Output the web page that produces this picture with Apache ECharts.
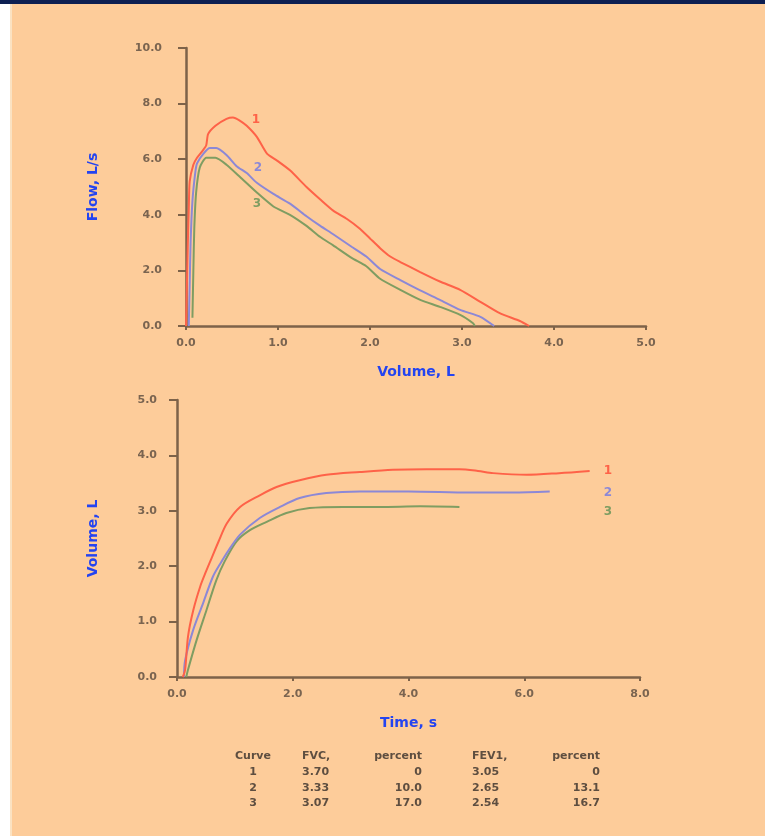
<!DOCTYPE html>
<html>
<head>
<meta charset="utf-8">
<script src="https://cdn.jsdelivr.net/npm/echarts@6/dist/echarts.min.js"></script>
<style>
  html, body { margin: 0; padding: 0; background: #fff; }
  #main { width: 765px; height: 836px; }
</style>
</head>
<body>
<div id="main"></div>
<script>
// flow-volume loops: volume (L) and flow (L/s)
const fvVolume1 = [0, 0.01, 0.02, 0.03, 0.04, 0.08, 0.12, 0.18, 0.22, 0.24, 0.32, 0.44, 0.51, 0.58, 0.66, 0.77, 0.88, 0.99, 1.13, 1.31, 1.46, 1.6, 1.75, 1.89, 2.0, 2.11, 2.22, 2.33, 2.54, 2.76, 2.98, 3.2, 3.41, 3.63, 3.73];
const fvFlow1   = [0, 1.5, 3.0, 4.2, 5.2, 5.8, 6.05, 6.3, 6.5, 6.9, 7.2, 7.45, 7.5, 7.4, 7.2, 6.8, 6.2, 5.95, 5.6, 5.0, 4.55, 4.15, 3.85, 3.5, 3.15, 2.8, 2.5, 2.3, 1.95, 1.6, 1.3, 0.87, 0.46, 0.18, 0];
const fvVolume2 = [0.03, 0.04, 0.05, 0.07, 0.1, 0.12, 0.19, 0.26, 0.33, 0.44, 0.55, 0.66, 0.77, 0.95, 1.13, 1.31, 1.46, 1.6, 1.8, 1.96, 2.11, 2.33, 2.54, 2.76, 2.98, 3.2, 3.35];
const fvFlow2   = [0, 1.5, 3.0, 4.5, 5.5, 5.85, 6.2, 6.4, 6.4, 6.15, 5.75, 5.5, 5.15, 4.75, 4.4, 3.95, 3.6, 3.3, 2.85, 2.5, 2.05, 1.65, 1.29, 0.94, 0.58, 0.33, 0];
const fvVolume3 = [0.07, 0.08, 0.09, 0.11, 0.15, 0.22, 0.32, 0.44, 0.59, 0.77, 0.95, 1.13, 1.31, 1.46, 1.6, 1.8, 1.96, 2.11, 2.33, 2.54, 2.76, 2.98, 3.12, 3.14];
const fvFlow3   = [0.3, 2.0, 3.5, 4.8, 5.7, 6.05, 6.05, 5.8, 5.35, 4.8, 4.3, 4.0, 3.6, 3.2, 2.9, 2.45, 2.15, 1.7, 1.3, 0.95, 0.69, 0.4, 0.1, 0];

// volume-time curves: time (s) and volume (L)
const vtTime1   = [0.1, 0.14, 0.19, 0.28, 0.4, 0.5, 0.6, 0.72, 0.86, 1.09, 1.43, 1.72, 2.12, 2.58, 3.16, 3.73, 4.31, 4.88, 5.2, 5.46, 6.04, 6.6, 7.13];
const vtVolume1 = [0, 0.13, 0.73, 1.2, 1.63, 1.9, 2.15, 2.45, 2.77, 3.07, 3.28, 3.43, 3.55, 3.65, 3.7, 3.74, 3.75, 3.75, 3.72, 3.68, 3.65, 3.68, 3.72];
const vtTime2   = [0.12, 0.14, 0.28, 0.45, 0.62, 0.75, 0.9, 1.09, 1.43, 1.78, 2.12, 2.58, 3.16, 4.0, 5.06, 5.8, 6.44];
const vtVolume2 = [0, 0.3, 0.85, 1.33, 1.81, 2.05, 2.3, 2.57, 2.87, 3.07, 3.23, 3.32, 3.35, 3.35, 3.33, 3.33, 3.35];
const vtTime3   = [0.16, 0.19, 0.34, 0.51, 0.68, 0.83, 1.03, 1.26, 1.55, 1.89, 2.29, 2.87, 3.5, 4.2, 4.88];
const vtVolume3 = [0, 0.13, 0.67, 1.21, 1.75, 2.1, 2.45, 2.65, 2.8, 2.96, 3.05, 3.07, 3.07, 3.08, 3.07];

const curveNames = ["1", "2", "3"];
const curveColors = ["#fe6248", "#8c88d6", "#7f9d62"];

// table under the charts
const tableHeader = ["Curve", "FVC,", "percent", "FEV1,", "percent"];
const tableCurve = ["1", "2", "3"];
const tableFVC = ["3.70", "3.33", "3.07"];
const tableFVCPct = ["0", "10.0", "17.0"];
const tableFEV1 = ["3.05", "2.65", "2.54"];
const tableFEV1Pct = ["0", "13.1", "16.7"];

const zip = (xs, ys) => xs.map((x, i) => [x, ys[i]]);

const axisColor = "#7d6249";
const labelColor = "#7a6450";
const nameStyle = { color: "#2444f0", fontWeight: "bold", fontSize: 14, fontFamily: "DejaVu Sans" };

function valueAxis(idx, min, max, interval, name, nameGap, isY, margin) {
  return {
    type: "value",
    gridIndex: idx,
    min: min,
    max: max,
    interval: interval,
    name: name,
    nameLocation: "middle",
    nameGap: nameGap,
    nameTextStyle: nameStyle,
    axisLine: { show: true, lineStyle: { color: axisColor, width: 2.5 } },
    axisTick: { show: true, inside: false, length: isY ? 8 : 4, lineStyle: { color: axisColor, width: 2 } },
    splitLine: { show: false },
    axisLabel: {
      color: labelColor,
      fontSize: 11,
      fontWeight: "bold",
      fontFamily: "DejaVu Sans",
      margin: margin,
      formatter: v => v.toFixed(1)
    }
  };
}

const fvData = [zip(fvVolume1, fvFlow1), zip(fvVolume2, fvFlow2), zip(fvVolume3, fvFlow3)];
const vtData = [zip(vtTime1, vtVolume1), zip(vtTime2, vtVolume2), zip(vtTime3, vtVolume3)];

const series = [];
fvData.forEach((d, i) => {
  series.push({
    name: "fv" + curveNames[i],
    type: "line",
    xAxisIndex: 0,
    yAxisIndex: 0,
    data: d,
    showSymbol: false,
    smooth: 0.2,
    lineStyle: { color: curveColors[i], width: 2 },
    z: 3 - i
  });
});
vtData.forEach((d, i) => {
  series.push({
    name: "vt" + curveNames[i],
    type: "line",
    xAxisIndex: 1,
    yAxisIndex: 1,
    data: d,
    showSymbol: false,
    smooth: 0.3,
    lineStyle: { color: curveColors[i], width: 2 },
    z: 3 - i
  });
});

// curve number labels
const curveLabelPos = [
  [[256, 120], [258, 168], [257, 204]],
  [[608, 471], [608, 493], [608, 512]]
];
const graphics = [
  { type: "rect", shape: { x: 0, y: 0, width: 765, height: 4 }, style: { fill: "#0d1f52" } },
  { type: "rect", shape: { x: 0, y: 4, width: 10, height: 832 }, style: { fill: "#ffffff" } },
  { type: "rect", shape: { x: 10, y: 4, width: 2, height: 832 }, style: { fill: "#fbe2c2" } }
];
curveLabelPos.forEach(group => {
  group.forEach((p, i) => {
    graphics.push({
      type: "text", x: p[0], y: p[1],
      style: { text: curveNames[i], fill: curveColors[i], font: "bold 12px DejaVu Sans", align: "center", verticalAlign: "middle" }
    });
  });
});

// table
const tableFont = "bold 11px DejaVu Sans";
const tableColor = "#5e4e40";
const colX = [253, 302, 422, 472, 600];
const colAlign = ["center", "left", "right", "left", "right"];
const rowY = [756, 772, 788, 803];
tableHeader.forEach((h, c) => {
  graphics.push({ type: "text", x: colX[c], y: rowY[0],
    style: { text: h, fill: tableColor, font: tableFont, align: colAlign[c], verticalAlign: "middle" } });
});
const cols = [tableCurve, tableFVC, tableFVCPct, tableFEV1, tableFEV1Pct];
cols.forEach((col, c) => {
  col.forEach((txt, r) => {
    graphics.push({ type: "text", x: colX[c], y: rowY[r + 1],
      style: { text: txt, fill: tableColor, font: tableFont, align: colAlign[c], verticalAlign: "middle" } });
  });
});

let option = {
  backgroundColor: "#fdcc9a",
  animation: false,
  grid: [
    { left: 186, top: 48, width: 460, height: 278 },
    { left: 177, top: 400, width: 463, height: 277 }
  ],
  xAxis: [
    valueAxis(0, 0, 5, 1, "Volume, L", 39, false, 12),
    valueAxis(1, 0, 8, 2, "Time, s", 39, false, 12)
  ],
  yAxis: [
    valueAxis(0, 0, 10, 2, "Flow, L/s", 86, true, 24),
    valueAxis(1, 0, 5, 1, "Volume, L", 77, true, 20)
  ],
  series: series,
  graphic: graphics
};

let myChart = echarts.init(document.getElementById("main"));
myChart.setOption(option);
</script>
</body>
</html>
